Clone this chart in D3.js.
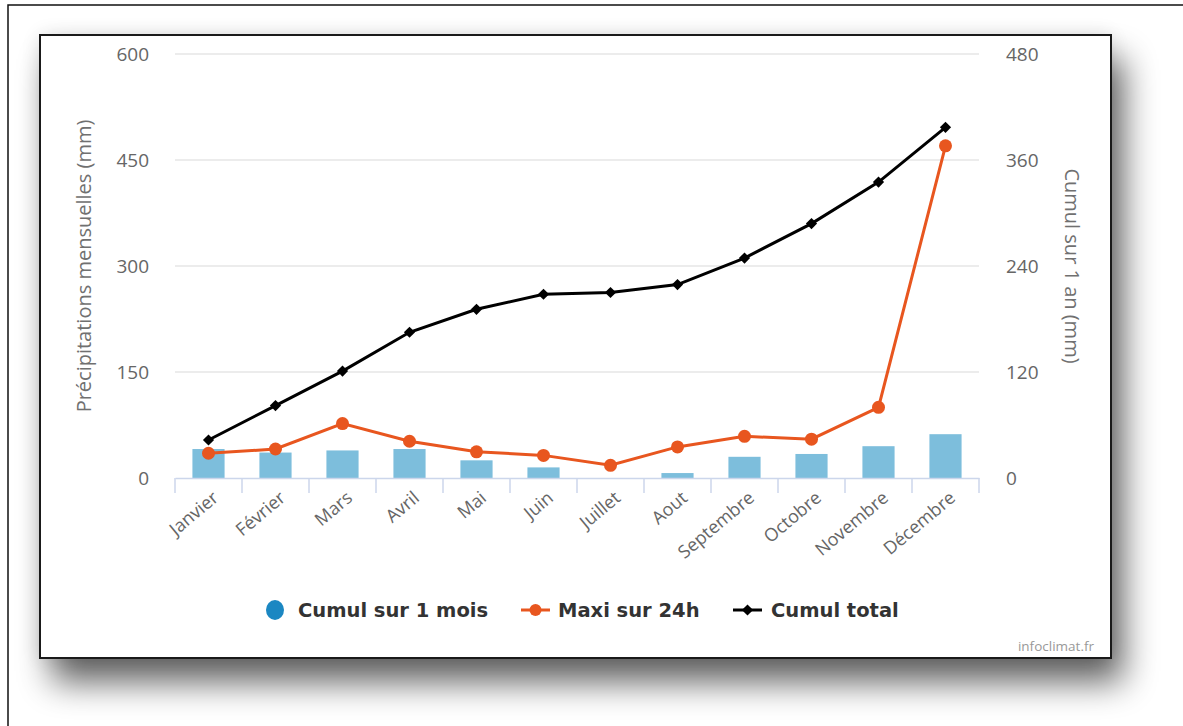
<!DOCTYPE html>
<html>
<head>
<meta charset="utf-8">
<script src="https://cdn.jsdelivr.net/npm/d3@7"></script>
<style>
  html, body { margin: 0; padding: 0; background: #fff; }
  svg { display: block; }
</style>
</head>
<body>
<svg id="chart" width="1183" height="726"></svg>
<script>
// Monthly precipitation data
const months = ["Janvier", "Février", "Mars", "Avril", "Mai", "Juin", "Juillet", "Aout", "Septembre", "Octobre", "Novembre", "Décembre"];
const cumulMois = [41, 36, 39, 41, 25, 15, 0, 7, 30, 34, 45, 62];          // mm, left axis
const maxi24h = [35, 41, 77, 52, 37, 32, 18, 44, 59, 55, 100, 470];        // mm, left axis
const cumulTotal = [43, 82, 121, 165, 191, 208, 210, 219, 249, 288, 335, 397]; // mm, right axis
const leftTicks = [0, 150, 300, 450, 600];
const rightTicks = [0, 120, 240, 360, 480];
const legendItems = ["Cumul sur 1 mois", "Maxi sur 24h", "Cumul total"];

const svg = d3.select("#chart");
const defs = svg.append("defs");

// Drop shadow under the card
const f = defs.append("filter").attr("id", "shadow")
  .attr("x", "-10%").attr("y", "-10%").attr("width", "125%").attr("height", "130%");
f.append("feGaussianBlur").attr("in", "SourceAlpha").attr("stdDeviation", 17).attr("result", "b1");
f.append("feOffset").attr("in", "b1").attr("dx", 12).attr("dy", 24).attr("result", "o1");
f.append("feComponentTransfer").attr("in", "o1").attr("result", "s1")
  .append("feFuncA").attr("type", "linear").attr("slope", 0.62);
f.append("feGaussianBlur").attr("in", "SourceAlpha").attr("stdDeviation", 10).attr("result", "b2");
f.append("feComponentTransfer").attr("in", "b2").attr("result", "s2")
  .append("feFuncA").attr("type", "linear").attr("slope", 0.12);
const fm = f.append("feMerge");
fm.append("feMergeNode").attr("in", "s1");
fm.append("feMergeNode").attr("in", "s2");

// Outer frame
svg.append("rect").attr("x", 8).attr("y", 5).attr("width", 1200).attr("height", 760)
  .attr("fill", "#fff").attr("stroke", "#111").attr("stroke-width", 1.5);

// Card
svg.append("rect").attr("x", 40).attr("y", 35).attr("width", 1071).attr("height", 623)
  .attr("fill", "#fff").attr("filter", "url(#shadow)");
svg.append("rect").attr("x", 40).attr("y", 35).attr("width", 1071).attr("height", 623)
  .attr("fill", "#fff").attr("stroke", "#1a1a1a").attr("stroke-width", 2);

// Scales
const x = d3.scaleBand().domain(months).range([175, 979]);
const yL = d3.scaleLinear().domain([0, 600]).range([478, 54]);
const yR = d3.scaleLinear().domain([0, 480]).range([478, 54]);
const cx = m => x(m) + x.bandwidth() / 2;

const FONT = "'Open Sans', sans-serif";

// Grid lines
svg.append("g").selectAll("line").data(leftTicks.filter(d => d > 0)).join("line")
  .attr("x1", 175).attr("x2", 979)
  .attr("y1", d => yL(d)).attr("y2", d => yL(d))
  .attr("stroke", "#e6e6e6").attr("stroke-width", 1.5);

// Left axis
const gl = svg.append("g").attr("transform", "translate(149,0)")
  .call(d3.axisLeft(yL).tickValues(leftTicks).tickSize(0).tickPadding(0).tickFormat(d3.format("d")));
gl.select(".domain").remove();
gl.selectAll("text").attr("font-family", FONT).attr("font-size", 19).attr("fill", "#666");

// Right axis
const gr = svg.append("g").attr("transform", "translate(1006,0)")
  .call(d3.axisRight(yR).tickValues(rightTicks).tickSize(0).tickPadding(0).tickFormat(d3.format("d")));
gr.select(".domain").remove();
gr.selectAll("text").attr("font-family", FONT).attr("font-size", 19).attr("fill", "#666");

// Axis titles
svg.append("text").attr("transform", "translate(91,266) rotate(-90)")
  .attr("text-anchor", "middle").attr("font-family", FONT).attr("font-size", 20)
  .attr("fill", "#707070").text("Précipitations mensuelles (mm)");
svg.append("text").attr("transform", "translate(1065,266) rotate(90)")
  .attr("text-anchor", "middle").attr("font-family", FONT).attr("font-size", 20)
  .attr("fill", "#707070").text("Cumul sur 1 an (mm)");

// Bars
const barW = x.bandwidth() * 0.48;
svg.append("g").selectAll("rect").data(months).join("rect")
  .attr("x", (m) => cx(m) - barW / 2)
  .attr("y", (m, i) => yL(cumulMois[i]))
  .attr("width", barW)
  .attr("height", (m, i) => yL(0) - yL(cumulMois[i]))
  .attr("fill", "#7dbedc");

// X axis line, boundary ticks and labels
const gx = svg.append("g").attr("transform", "translate(0,478)")
  .call(d3.axisBottom(x).tickSize(0).tickPadding(0));
gx.select(".domain").attr("stroke", "#ccd6eb").attr("stroke-width", 1.5);
gx.selectAll(".tick text")
  .attr("font-family", FONT).attr("font-size", 18).attr("fill", "#666")
  .attr("text-anchor", "end")
  .attr("transform", "translate(7,17) rotate(-40)")
  .attr("dy", "0.35em").attr("y", 0);
const bounds = d3.range(months.length + 1).map(i => x.range()[0] + i * x.step());
svg.append("g").selectAll("line").data(bounds).join("line")
  .attr("x1", d => d).attr("x2", d => d).attr("y1", 478).attr("y2", 493)
  .attr("stroke", "#ccd6eb").attr("stroke-width", 1.5);

// Maxi sur 24h line
const orange = "#e8561f";
svg.append("path").datum(maxi24h)
  .attr("d", d3.line().x((d, i) => cx(months[i])).y(d => yL(d)))
  .attr("fill", "none").attr("stroke", orange).attr("stroke-width", 3);
svg.append("g").selectAll("circle").data(maxi24h).join("circle")
  .attr("cx", (d, i) => cx(months[i])).attr("cy", d => yL(d)).attr("r", 6.5)
  .attr("fill", orange);

// Cumul total line
svg.append("path").datum(cumulTotal)
  .attr("d", d3.line().x((d, i) => cx(months[i])).y(d => yR(d)))
  .attr("fill", "none").attr("stroke", "#000").attr("stroke-width", 3);
const diamond = d3.symbol().type(d3.symbolDiamond2).size(80);
svg.append("g").selectAll("path").data(cumulTotal).join("path")
  .attr("d", diamond)
  .attr("transform", (d, i) => `translate(${cx(months[i])},${yR(d)})`)
  .attr("fill", "#000");

// Legend
const lg = svg.append("g").attr("font-family", "'DejaVu Sans', sans-serif")
  .attr("font-weight", "bold").attr("font-size", 19.5).attr("fill", "#333");
lg.append("ellipse").attr("cx", 275).attr("cy", 610).attr("rx", 9).attr("ry", 10).attr("fill", "#1b87c2");
lg.append("text").attr("x", 298).attr("y", 617).text(legendItems[0]);
lg.append("line").attr("x1", 521).attr("x2", 550).attr("y1", 610).attr("y2", 610)
  .attr("stroke", orange).attr("stroke-width", 3);
lg.append("circle").attr("cx", 535.5).attr("cy", 610).attr("r", 6).attr("fill", orange);
lg.append("text").attr("x", 558).attr("y", 617).text(legendItems[1]);
lg.append("line").attr("x1", 733).attr("x2", 762).attr("y1", 610).attr("y2", 610)
  .attr("stroke", "#000").attr("stroke-width", 3);
lg.append("path").attr("d", diamond).attr("transform", "translate(747.5,610)").attr("fill", "#000");
lg.append("text").attr("x", 771).attr("y", 617).text(legendItems[2]);

// Credit
svg.append("text").attr("x", 1094).attr("y", 651).attr("text-anchor", "end")
  .attr("font-family", FONT).attr("font-size", 13.5).attr("fill", "#999").text("infoclimat.fr");
</script>
</body>
</html>
